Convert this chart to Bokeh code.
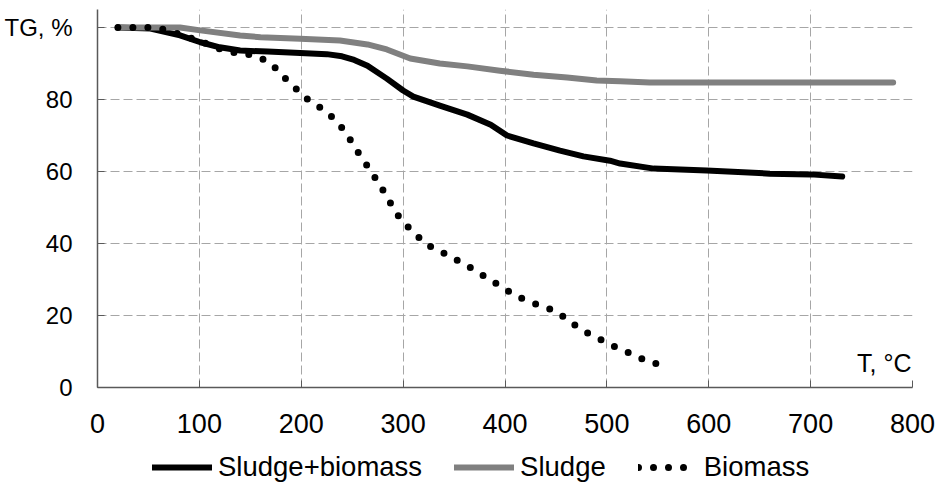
from bokeh.plotting import figure
from bokeh.models import Range1d, FixedTicker, Legend, LegendItem, Label
from bokeh.layouts import column
from bokeh.embed import file_html
from bokeh.resources import INLINE

# ---- data ----
t_blend = [20, 52, 81, 101, 120, 140, 167, 199, 225, 240, 252, 265, 284, 300, 310, 336, 363,
           386, 402, 428, 454, 477, 503, 513, 546, 598, 660, 700, 731]
tg_blend = [100, 99.7, 97.8, 95.9, 94.5, 93.6, 93.3, 92.9, 92.6, 92.0, 91.0, 89.4, 85.8, 82.5,
            80.8, 78.3, 75.8, 73.0, 70.0, 67.8, 65.8, 64.2, 63.0, 62.2, 60.8, 60.3, 59.4,
            59.2, 58.6]

t_sludge = [20, 81, 101, 140, 160, 199, 238, 265, 284, 307, 336, 363, 395, 428, 461,
            490, 513, 542, 781]
tg_sludge = [100, 100, 99.2, 97.8, 97.3, 96.9, 96.4, 95.3, 93.9, 91.4, 90.0, 89.2, 88.0,
             86.9, 86.1, 85.3, 85.1, 84.7, 84.7]

t_bio = [20, 35, 50, 65, 80, 108, 122, 137, 151, 166, 177, 187, 198, 209, 222, 233, 243,
         251, 259, 268, 276, 284, 291, 300, 311, 321, 335, 348, 361, 374, 387, 399, 412,
         426, 441, 453, 466, 478, 492, 505, 519, 532, 545, 561]
tg_bio = [100, 100, 100, 99.5, 98.2, 95.4, 93.8, 92.9, 92.4, 90.8, 88.2, 85.0, 82.2, 79.3,
          77.2, 74.4, 71.1, 67.5, 63.9, 60.3, 56.7, 53.1, 49.4, 45.8, 43.1, 40.0, 38.1,
          36.1, 34.2, 31.9, 29.7, 27.5, 25.3, 23.6, 22.2, 20.6, 17.8, 15.6, 13.6, 11.7,
          10.0, 8.3, 6.7, 6.7]

x_ticks = [0, 100, 200, 300, 400, 500, 600, 700, 800]
y_ticks = [0, 20, 40, 60, 80, 100]
series_names = ["Sludge+biomass", "Sludge", "Biomass"]
y_title = "TG, %"
x_title = "T, \u00b0C"

BLACK = "black"
GREY = "#808080"

p = figure(width=942, height=450, output_backend="svg", toolbar_location=None,
           x_range=Range1d(0, 800), y_range=Range1d(0, 105),
           min_border_left=97, min_border_right=30, min_border_top=9,
           min_border_bottom=63)
p.outline_line_color = None
p.background_fill_color = "white"
p.border_fill_color = "white"

for g in (p.xgrid, p.ygrid):
    g.grid_line_color = "#a6a6a6"
    g.grid_line_dash = "9 4"
    g.grid_line_width = 1

p.xaxis.ticker = FixedTicker(ticks=x_ticks)
p.yaxis.ticker = FixedTicker(ticks=y_ticks)
p.yaxis.major_label_overrides = {100: y_title}

for ax in (p.xaxis, p.yaxis):
    ax.axis_line_color = "#595959"
    ax.axis_line_width = 1.5
    ax.major_tick_line_color = "#595959"
    ax.major_tick_in = 7
    ax.major_tick_out = 0
    ax.minor_tick_line_color = None
    ax.major_label_text_color = "black"

p.yaxis.major_label_text_font = "Liberation Sans"
p.yaxis.major_label_text_font_size = "24px"
p.yaxis.major_label_standoff = 25

p.xaxis.major_label_text_font = "Liberation Sans"
p.xaxis.major_label_text_font_size = "27px"
p.xaxis.major_label_standoff = 26

line_styles = [dict(line_color=BLACK, line_width=6, line_join="round", line_cap="round"),
               dict(line_color=GREY, line_width=6, line_join="round", line_cap="round"),
               dict(line_color=BLACK, line_width=7, line_dash="0 15",
                    line_cap="round", line_join="round")]

series = [(t_blend, tg_blend), (t_sludge, tg_sludge), (t_bio, tg_bio)]
for (xs, ys), st in zip(series, line_styles):
    p.line(xs, ys, **st)

p.add_layout(Label(x=800, y=0, x_offset=-1, y_offset=25, text=x_title,
                   text_align="right", text_baseline="alphabetic",
                   text_font="Liberation Sans", text_font_size="25px",
                   text_color="black"))

# ---- legend strip below the chart (its lines lie outside its own range) ----
pl = figure(width=942, height=34, output_backend="svg", toolbar_location=None,
            x_range=Range1d(0, 1), y_range=Range1d(0, 1),
            min_border=0, min_border_left=0, min_border_right=0,
            min_border_top=0, min_border_bottom=0)
pl.axis.visible = False
pl.grid.visible = False
pl.outline_line_color = None
pl.border_fill_color = "white"
pl.background_fill_color = "white"

leg_renderers = [pl.line(xs, ys, **st) for (xs, ys), st in zip(series, line_styles)]
legend = Legend(items=[LegendItem(label=n, renderers=[r])
                       for n, r in zip(series_names, leg_renderers)],
                location=(55, 1), orientation="horizontal",
                glyph_width=60, glyph_height=20, label_standoff=6, spacing=32,
                padding=0, margin=0,
                label_text_font="Liberation Sans", label_text_font_size="27.5px",
                label_text_color="black",
                border_line_color=None, background_fill_alpha=0)
pl.add_layout(legend)

layout = column(p, pl, spacing=0)
open("out.html", "w").write(file_html(layout, INLINE))
